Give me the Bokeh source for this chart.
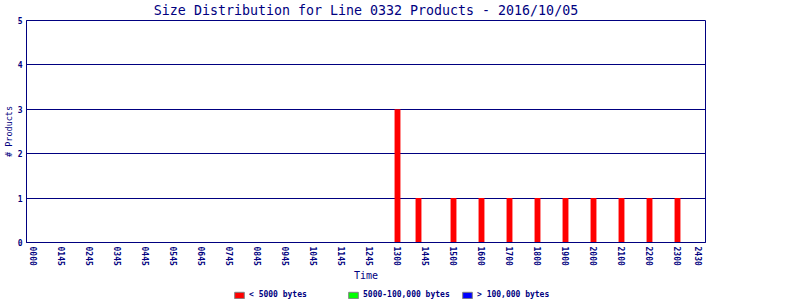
from bokeh.plotting import figure
from bokeh.models import Range1d, FixedTicker, Legend, LegendItem, ColumnDataSource
from bokeh.layouts import column
from bokeh.embed import file_html
from bokeh.resources import INLINE

# ---- data ----
times = ["1300", "1345", "1500", "1600", "1700", "1800", "1900", "2000", "2100", "2200", "2300"]
small_counts = [3, 1, 1, 1, 1, 1, 1, 1, 1, 1, 1]
medium_counts = [0, 0, 0, 0, 0, 0, 0, 0, 0, 0, 0]
large_counts = [0, 0, 0, 0, 0, 0, 0, 0, 0, 0, 0]
tick_hours = [0, 1, 2, 3, 4, 5, 6, 7, 8, 9, 10, 11, 12, 13, 14, 15, 16, 17, 18, 19, 20, 21, 22, 23, 23.75]
tick_labels = ["0000", "0145", "0245", "0345", "0445", "0545", "0645", "0745", "0845", "0945",
               "1045", "1145", "1245", "1300", "1445", "1500", "1600", "1700", "1800", "1900",
               "2000", "2100", "2200", "2300", "2430"]
series_names = ["< 5000 bytes", "5000-100,000 bytes", "> 100,000 bytes"]
series_colors = ["#FF0000", "#00FF00", "#0000FF"]

NAVY = "#000080"
MONO = "DejaVu Sans Mono"

hours = [int(t[:2]) + int(t[2:]) / 60.0 for t in times]
src = ColumnDataSource(dict(x=hours, small=small_counts, medium=medium_counts, large=large_counts))

p = figure(width=800, height=283, output_backend="svg", toolbar_location=None,
           x_range=Range1d(-0.25, 24.0), y_range=Range1d(0, 5),
           min_border_left=26, min_border_right=95, min_border_top=20, min_border_bottom=41,
           title="Size Distribution for Line 0332 Products - 2016/10/05")

p.title.text_font = MONO
p.title.text_font_size = "13.3px"
p.title.text_font_style = "normal"
p.title.text_color = NAVY
p.title.align = "center"
p.title.vertical_align = "top"
p.title.standoff = 1
p.title.offset = 0

p.outline_line_color = NAVY
p.outline_line_width = 1
p.background_fill_color = "white"
p.border_fill_color = "white"

p.xgrid.visible = False
p.ygrid.grid_line_color = NAVY
p.ygrid.grid_line_alpha = 1
p.ygrid.ticker = FixedTicker(ticks=[0, 1, 2, 3, 4, 5])

# x axis
xa = p.xaxis[0]
xa.ticker = FixedTicker(ticks=tick_hours)
xa.major_label_overrides = {h: l for h, l in zip(tick_hours, tick_labels)}
xa.major_label_orientation = "vertical"
xa.major_tick_in = 0
xa.major_tick_out = 0
xa.minor_tick_in = 0
xa.minor_tick_out = 0
xa.axis_line_color = NAVY
xa.major_label_text_font = MONO
xa.major_label_text_font_size = "8px"
xa.major_label_text_font_style = "bold"
xa.major_label_text_color = NAVY
xa.major_label_standoff = 4
xa.axis_label = "Time"
xa.axis_label_text_font = MONO
xa.axis_label_text_font_size = "10px"
xa.axis_label_text_font_style = "normal"
xa.axis_label_text_color = NAVY
xa.axis_label_standoff = 1

ya = p.yaxis[0]
ya.ticker = FixedTicker(ticks=[0, 1, 2, 3, 4, 5])
ya.major_tick_in = 0
ya.major_tick_out = 0
ya.minor_tick_in = 0
ya.minor_tick_out = 0
ya.axis_line_color = NAVY
ya.major_label_text_font = MONO
ya.major_label_text_font_size = "8px"
ya.major_label_text_font_style = "bold"
ya.major_label_text_color = NAVY
ya.major_label_standoff = 4
ya.axis_label = "# Products"
ya.axis_label_text_font = MONO
ya.axis_label_text_font_size = "8.5px"
ya.axis_label_text_font_style = "normal"
ya.axis_label_text_color = NAVY
ya.axis_label_standoff = 1

W = 0.21
p.vbar(x="x", top="small", width=W, source=src, fill_color=series_colors[0], line_color=None)
p.vbar(x="x", top="medium", width=W, source=src, fill_color=series_colors[1], line_color=None)
p.vbar(x="x", top="large", width=W, source=src, fill_color=series_colors[2], line_color=None)

# legend strip below the chart
lg = figure(width=800, height=17, output_backend="svg", toolbar_location=None,
            x_range=Range1d(0, 1), y_range=Range1d(0, 1),
            x_axis_type=None, y_axis_type=None,
            min_border_left=0, min_border_right=0, min_border_top=0, min_border_bottom=0)
lg.outline_line_color = None
lg.grid.visible = False
lg.background_fill_color = "white"
lg.border_fill_color = "white"

items = []
for name, col in zip(series_names, series_colors):
    # off-range placeholder mark so the legend swatch has a style to draw
    r = lg.vbar(x=[-5], top=[-5], bottom=[-6], width=0.01, fill_color=col, line_color="#808080")
    items.append(LegendItem(label=name, renderers=[r]))

legend = Legend(items=items, orientation="horizontal", location=(207, 1),
                padding=0, margin=0, spacing=4, glyph_width=12, glyph_height=8,
                label_height=8, label_width=94, label_standoff=4,
                label_text_font=MONO, label_text_font_size="8px", label_text_font_style="bold",
                label_text_color=NAVY, border_line_color=None, background_fill_alpha=0)
lg.add_layout(legend)

layout = column(p, lg, spacing=0)
open("out.html", "w").write(file_html(layout, INLINE))
